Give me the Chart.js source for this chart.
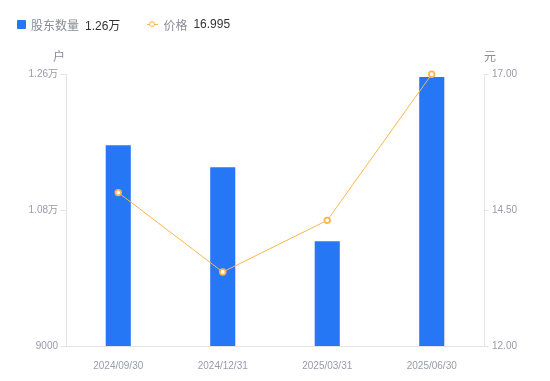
<!DOCTYPE html>
<html>
<head>
<meta charset="utf-8">
<script src="https://cdn.jsdelivr.net/npm/chart.js@4/dist/chart.umd.min.js"></script>
<style>
  html, body { margin: 0; padding: 0; background: #fff; }
  #wrap { position: relative; width: 550px; height: 381px; }
  #legend {
    position: absolute; left: 17px; top: 15px; height: 18px;
    display: flex; align-items: center;
    font: 12px "Liberation Sans", "Noto Sans CJK SC", sans-serif;
  }
  .item { display: flex; align-items: center; margin-right: 27px; }
  .name { color: #8b8b99; margin-right: 6px; }
  .val { color: #333; }
  .sq { width: 9px; height: 9px; border-radius: 1px; background: #2677f6; margin-right: 5px; }
  .ln { position: relative; width: 11px; height: 9px; margin-right: 5px; }
  .ln::before { content: ""; position: absolute; left: 0; right: 0; top: 4px; height: 1.5px; background: #ffb54c; }
  .ln::after { content: ""; position: absolute; left: 2px; top: 1px; width: 4px; height: 4px; border: 1.5px solid #ffb54c; border-radius: 50%; background: #fff; }
</style>
</head>
<body>
<div id="wrap">
  <canvas id="chart" width="550" height="381"></canvas>
  <div id="legend"></div>
</div>
<script>
// data
const dates = ["2024/09/30", "2024/12/31", "2025/03/31", "2025/06/30"];
const holders = [11657, 11367, 10385, 12560];
const prices = [14.82, 13.36, 14.31, 16.995];
const holderTicks = [9000, 10800, 12600];
const priceTicks = [12, 14.5, 17];

const BLUE = "#2677f6";
const ORANGE = "#ffb54c";
const GREY = "#9a9aaa";
const AXIS = "#e3e3e8";
const FONT = '"Liberation Sans", "Noto Sans CJK SC", sans-serif';

function fmtHolders(v) {
  return v >= 10000 ? (Math.round(v / 100) / 100).toFixed(2) + "万" : String(v);
}

// legend in html
const legend = document.getElementById("legend");
legend.innerHTML =
  '<div class="item"><span class="sq"></span><span class="name">股东数量</span><span class="val">' +
  fmtHolders(holders[holders.length - 1]) + '</span></div>' +
  '<div class="item"><span class="ln"></span><span class="name">价格</span><span class="val">' +
  prices[prices.length - 1] + '</span></div>';

// unit labels above the two y axes
const unitTitles = {
  id: "unitTitles",
  afterDraw(chart) {
    const ctx = chart.ctx;
    const { top } = chart.chartArea;
    ctx.save();
    ctx.font = "12px " + FONT;
    ctx.fillStyle = "#8b8b99";
    ctx.textAlign = "center";
    ctx.textBaseline = "middle";
    ctx.fillText("户", chart.scales.y.right - 7, top - 16);
    ctx.fillText("元", chart.scales.y1.left + 6, top - 16);
    ctx.restore();
  }
};

new Chart(document.getElementById("chart"), {
  data: {
    labels: dates,
    datasets: [
      {
        type: "line",
        label: "价格",
        data: prices,
        yAxisID: "y1",
        borderColor: ORANGE,
        borderWidth: 1,
        backgroundColor: "#fff",
        pointBorderColor: ORANGE,
        pointBorderWidth: 1.8,
        pointRadius: 2.8,
        tension: 0,
        clip: false,
        order: 0
      },
      {
        type: "bar",
        label: "股东数量",
        data: holders,
        yAxisID: "y",
        backgroundColor: BLUE,
        barPercentage: 0.24,
        categoryPercentage: 1,
        order: 1
      }
    ]
  },
  options: {
    responsive: false,
    animation: false,
    layout: { padding: { top: 74, left: 0, right: 0, bottom: 0 } },
    plugins: { legend: { display: false }, tooltip: { enabled: false } },
    scales: {
      x: {
        grid: { display: false },
        border: { color: AXIS },
        ticks: { color: GREY, font: { size: 10, family: FONT }, padding: 6, maxRotation: 0 },
        afterFit(s) { s.height = 35; }
      },
      y: {
        position: "left",
        min: 9000,
        max: 12600,
        afterBuildTicks(s) { s.ticks = holderTicks.map(v => ({ value: v })); },
        grid: { drawOnChartArea: false, drawTicks: true, tickLength: 5, color: AXIS },
        border: { color: AXIS },
        ticks: { color: GREY, font: { size: 10, family: FONT }, padding: 3, callback: v => fmtHolders(v) },
        afterFit(s) { s.width = 66; }
      },
      y1: {
        position: "right",
        min: 12,
        max: 17,
        afterBuildTicks(s) { s.ticks = priceTicks.map(v => ({ value: v })); },
        grid: { drawOnChartArea: false, drawTicks: true, tickLength: 5, color: AXIS },
        border: { color: AXIS },
        ticks: { color: GREY, font: { size: 10, family: FONT }, padding: 3, callback: v => v.toFixed(2) },
        afterFit(s) { s.width = 66; }
      }
    }
  },
  plugins: [unitTitles]
});
</script>
</body>
</html>
